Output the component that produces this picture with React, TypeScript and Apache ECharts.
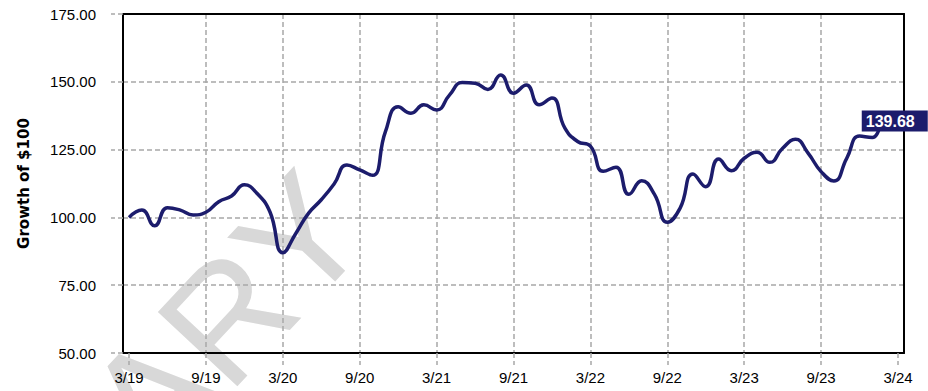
import React, { useEffect, useRef } from "react";
import * as echarts from "echarts";

// Months since March 2019 (0 = 3/19)
const months = [
  0, 1, 2, 3, 4, 5, 6, 7, 8, 9, 10, 11, 12, 13, 14, 15, 16, 17, 18, 19, 20,
  21, 22, 23, 24, 25, 26, 27, 28, 29, 30, 31, 32, 33, 34, 35, 36, 37, 38, 39,
  40, 41, 42, 43, 44, 45, 46, 47, 48, 49, 50, 51, 52, 53, 54, 55, 56, 57, 58,
  58.5,
];
// Growth of $100
const growth = [
  100.0, 102.7, 96.9, 103.6, 102.7, 100.9, 101.9, 105.8, 107.9, 112.0, 108.8,
  102.0, 87.0, 94.0, 101.5, 106.5, 112.3, 119.3, 117.5, 115.5, 131.5, 140.8,
  138.4, 141.5, 139.6, 145.1, 149.7, 149.5, 147.2, 152.5, 145.8, 148.8, 141.5,
  144.0, 133.0, 128.0, 126.3, 117.0, 118.5, 108.5, 113.5, 108.5, 98.2, 103.4,
  116.0, 111.3, 121.5, 117.2, 121.8, 124.0, 120.3, 125.5, 128.8, 123.6, 116.9,
  113.4, 121.8, 130.0, 129.5, 132.2,
];
const tickMonths = [0, 6, 12, 18, 24, 30, 36, 42, 48, 54, 60];
const tickLabels = [
  "3/19", "9/19", "3/20", "9/20", "3/21", "9/21", "3/22", "9/22", "3/23", "9/23", "3/24",
];
const yTicks = [50, 75, 100, 125, 150, 175];
const endLabelText = "139.68";
const yAxisTitle = "Growth of $100";
const watermarkText = "PRELIMINARY";

const NAVY = "#1c1c6c";
const GRID = "#a8a8a8";
const FONT = "'Liberation Sans', Arial, Helvetica, sans-serif";

export default function App() {
  const ref = useRef<HTMLDivElement>(null);

  useEffect(() => {
    if (!ref.current) return;
    const chart = echarts.init(ref.current, null, { renderer: "svg" });
    const data = months.map((m, i) => [m, growth[i]]);
    const last = data[data.length - 1];
    const dashed = { color: GRID, width: 1.5, type: [5, 3] as number[] };

    chart.setOption({
      animation: false,
      backgroundColor: "#ffffff",
      grid: {
        left: 123,
        right: 24,
        top: 14,
        bottom: 38,
        show: false,
      },
      xAxis: [
        {
          type: "value",
          min: -0.47,
          max: 60.47,
          axisLine: { show: true, onZero: false, lineStyle: { color: "#000000", width: 2 } },
          axisTick: {
            show: true,
            length: 12,
            lineStyle: dashed,
            customValues: tickMonths,
          },
          axisLabel: {
            customValues: tickMonths,
            margin: 17,
            color: "#000000",
            fontSize: 15,
            fontFamily: FONT,
            formatter: (v: number) => {
              const idx = tickMonths.indexOf(Math.round(v));
              return idx >= 0 ? tickLabels[idx] : "";
            },
          },
          splitLine: { show: true, lineStyle: dashed, showMinLine: false, showMaxLine: false },
        },
        {
          type: "value",
          position: "top",
          min: -0.47,
          max: 60.47,
          axisLine: { show: true, onZero: false, lineStyle: { color: "#000000", width: 2 } },
          axisTick: { show: false },
          axisLabel: { show: false },
          splitLine: { show: false },
        },
      ],
      yAxis: [
        {
          type: "value",
          min: yTicks[0],
          max: yTicks[yTicks.length - 1],
          interval: 25,
          name: yAxisTitle,
          nameLocation: "middle",
          nameGap: 92,
          nameRotate: 90,
          nameTextStyle: {
            color: "#000000",
            fontSize: 15,
            fontWeight: "bold",
            fontFamily: "'DejaVu Sans', sans-serif",
          },
          axisLine: { show: true, onZero: false, lineStyle: { color: "#000000", width: 2 } },
          axisTick: { show: true, length: 12, lineStyle: dashed },
          axisLabel: {
            margin: 27,
            color: "#000000",
            fontSize: 15,
            fontFamily: FONT,
            formatter: (v: number) => v.toFixed(2),
          },
          splitLine: { show: true, lineStyle: dashed, showMinLine: false, showMaxLine: false },
        },
        {
          type: "value",
          position: "right",
          min: yTicks[0],
          max: yTicks[yTicks.length - 1],
          axisLine: { show: true, onZero: false, lineStyle: { color: "#000000", width: 2 } },
          axisTick: { show: false },
          axisLabel: { show: false },
          splitLine: { show: false },
        },
      ],
      graphic: [
        {
          type: "text",
          z: -10,
          x: 336,
          y: 200,
          rotation: (47 * Math.PI) / 180,
          silent: true,
          style: {
            text: watermarkText,
            fill: "#d8d8d8",
            font: `158px ${FONT}`,
            textAlign: "right",
            textVerticalAlign: "middle",
          },
        },
      ],
      series: [
        {
          type: "line",
          data,
          xAxisIndex: 0,
          yAxisIndex: 0,
          smooth: 0.5,
          clip: false,
          showSymbol: false,
          symbol: "none",
          z: 5,
          lineStyle: { color: NAVY, width: 3.5 },
          markPoint: {
            silent: true,
            data: [
              {
                coord: last,
                symbol: "rect",
                symbolSize: [66, 21],
                symbolOffset: [16, -9],
                itemStyle: { color: NAVY },
                label: {
                  show: true,
                  formatter: () => endLabelText,
                  position: "insideLeft",
                  distance: 4,
                  color: "#ffffff",
                  fontSize: 16,
                  fontWeight: "bold",
                  fontFamily: FONT,
                },
              },
            ],
          },
        },
      ],
    });
    return () => chart.dispose();
  }, []);

  return (
    <div
      ref={ref}
      style={{ position: "fixed", left: 0, top: 0, width: 928, height: 391 }}
    />
  );
}
